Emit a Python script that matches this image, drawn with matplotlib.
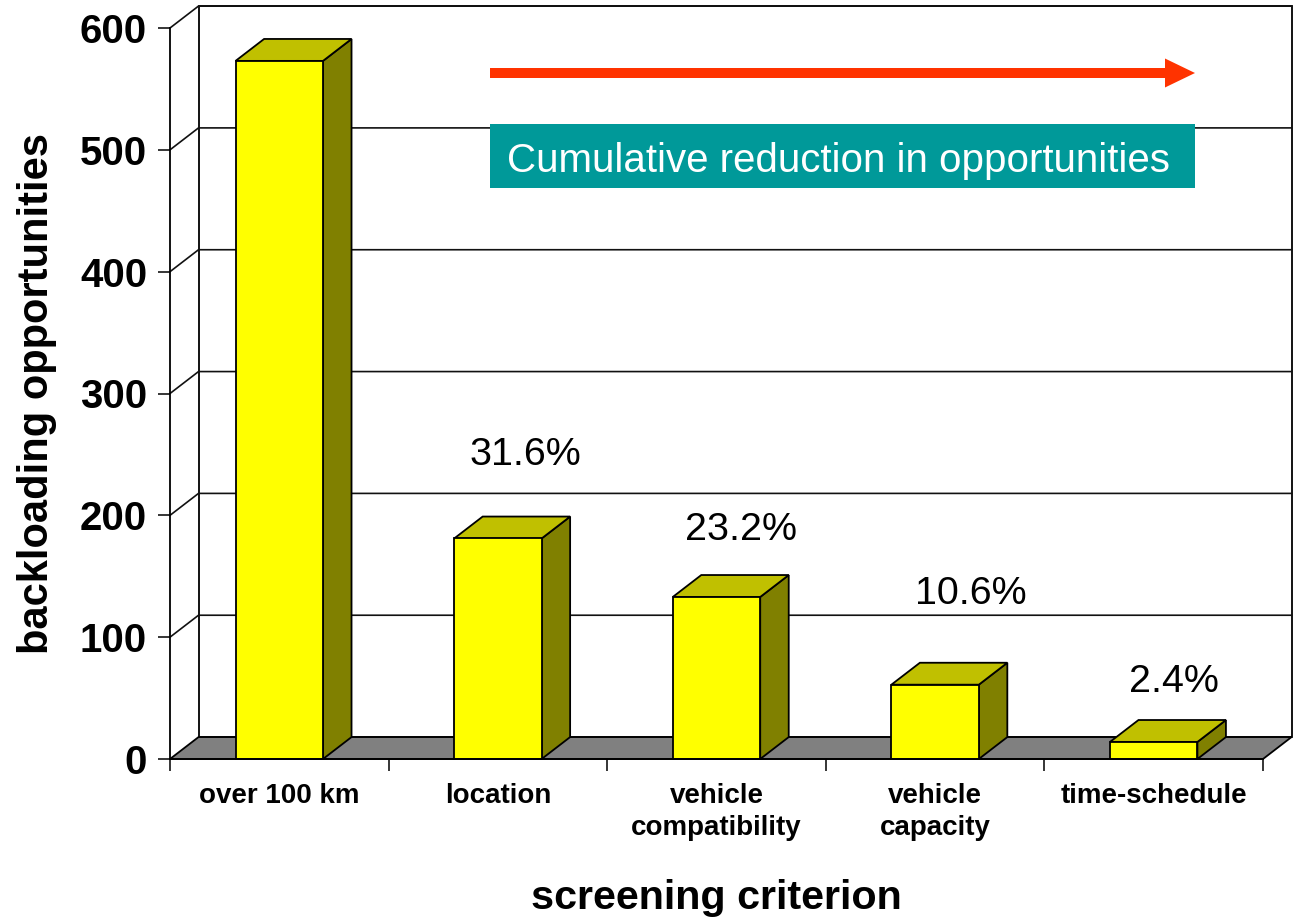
import matplotlib
matplotlib.use("Agg")
import matplotlib.pyplot as plt
from matplotlib.patches import Rectangle, Polygon, FancyArrow

# ---- data -------------------------------------------------------------
categories = ["over 100 km", "location", "vehicle\ncompatibility",
              "vehicle\ncapacity", "time-schedule"]
opportunities = [573, 181, 133, 61, 14]
y_ticks = [0, 100, 200, 300, 400, 500, 600]

# placement of the share labels (x offset from bar centre, baseline value)
share_label_pos = [None, (0.126, 241), (0.114, 180), (0.162, 127), (0.093, 55)]

# ---- style ------------------------------------------------------------
FRONT = "#FFFF00"
TOP = "#C0C000"
SIDE = "#808000"
FLOOR = "#808080"
EDGE_LW = 1.3
BAR_W = 0.40
DX, DY = 0.1304, 18.0          # depth of the pseudo-3D box (data units)
BOLD = dict(family="Liberation Sans", fontweight="bold")
PLAIN = dict(family="Liberation Sans")

fig = plt.figure(figsize=(12.97, 9.19), dpi=100)
fig.patch.set_facecolor("white")
ax = fig.add_axes([170 / 1297, 160 / 919, 1093 / 1297, 731 / 919])
ax.set_xlim(-0.5, len(categories) - 0.5)
ax.set_ylim(y_ticks[0], y_ticks[-1])
ax.patch.set_visible(False)

x_lo, x_hi = -0.5, len(categories) - 0.5
y_top = y_ticks[-1]

# back wall
ax.add_patch(Rectangle((x_lo + DX, DY), x_hi - x_lo, y_top, facecolor="white",
                       edgecolor="black", lw=EDGE_LW, zorder=0.5, clip_on=False))
# left side wall fill
ax.add_patch(Polygon([(x_lo, 0), (x_lo + DX, DY), (x_lo + DX, y_top + DY), (x_lo, y_top)],
                     closed=True, facecolor="white", edgecolor="none", zorder=0.4,
                     clip_on=False))
# gridlines on side wall and back wall
for v in y_ticks[1:]:
    ax.plot([x_lo, x_lo + DX, x_hi + DX], [v, v + DY, v + DY], color="#111111",
            lw=1.2, zorder=0.6, clip_on=False, solid_joinstyle="miter")
# floor
ax.add_patch(Polygon([(x_lo, 0), (x_hi, 0), (x_hi + DX, DY), (x_lo + DX, DY)],
                     closed=True, facecolor=FLOOR, edgecolor="black", lw=EDGE_LW,
                     zorder=0.7, clip_on=False))

# bars
for i, v in enumerate(opportunities):
    x0, x1 = i - BAR_W / 2, i + BAR_W / 2
    ax.add_patch(Polygon([(x1, 0), (x1 + DX, DY), (x1 + DX, v + DY), (x1, v)],
                         closed=True, facecolor=SIDE, edgecolor="black", lw=EDGE_LW,
                         zorder=3, clip_on=False, joinstyle="miter"))
    ax.add_patch(Polygon([(x0, v), (x1, v), (x1 + DX, v + DY), (x0 + DX, v + DY)],
                         closed=True, facecolor=TOP, edgecolor="black", lw=EDGE_LW,
                         zorder=3, clip_on=False, joinstyle="miter"))
    ax.add_patch(Rectangle((x0, 0), BAR_W, v, facecolor=FRONT, edgecolor="black",
                           lw=EDGE_LW, zorder=3.1, clip_on=False, joinstyle="miter"))

# share of the first screening stage
for i, v in enumerate(opportunities):
    pos = share_label_pos[i]
    if pos is None:
        continue
    ax.text(i + pos[0], pos[1], f"{v / opportunities[0] * 100:.1f}%",
            ha="center", va="baseline", fontsize=28.4, color="black", zorder=5, **PLAIN)

# axes lines and ticks
for s in ("top", "right"):
    ax.spines[s].set_visible(False)
ax.spines["left"].set_linewidth(EDGE_LW)
ax.spines["bottom"].set_linewidth(EDGE_LW)
ax.spines["left"].set_zorder(4)
ax.spines["bottom"].set_zorder(4)

ax.set_yticks(y_ticks)
ax.set_yticklabels([str(t) for t in y_ticks])
ax.tick_params(axis="y", direction="out", length=8.6, width=1.1, pad=7.9,
               labelsize=29)
for lab in ax.get_yticklabels():
    lab.set_fontfamily("Liberation Sans")
    lab.set_fontweight("bold")

ax.set_xticks([k - 0.5 for k in range(len(categories) + 1)])
ax.set_xticklabels([])
ax.set_xticks(range(len(categories)), minor=True)
ax.set_xticklabels(categories, minor=True)
ax.tick_params(axis="x", which="major", direction="out", length=8.6, width=1.1)
ax.tick_params(axis="x", which="minor", length=0, pad=17, labelsize=20)
for lab in ax.get_xticklabels(minor=True):
    lab.set_fontfamily("Liberation Sans")
    lab.set_fontweight("bold")
    lab.set_multialignment("center")
    lab.set_linespacing(1.32)

# axis titles
ax.text(-133 / 1093, 0.5, "backloading opportunities", transform=ax.transAxes,
        rotation=90, ha="center", va="center", fontsize=30, **BOLD)
fig.text(716.5 / 1297, 10 / 919, "screening criterion", ha="center",
         va="baseline", fontsize=29.7, **BOLD)

# annotation: arrow and caption box (figure inches)
inch = fig.dpi_scale_trans
fig.add_artist(FancyArrow(4.90, 8.46, 7.05, 0, width=0.10, head_width=0.29,
                          head_length=0.30, length_includes_head=True,
                          transform=inch, facecolor="#FF3300", edgecolor="none"))
fig.add_artist(Rectangle((4.90, 7.31), 7.05, 0.64, transform=inch,
                         facecolor="#009999", edgecolor="none", zorder=6))
fig.text(8.38, 7.47, "Cumulative reduction in opportunities", transform=inch,
         ha="center", va="baseline", fontsize=29, color="white", zorder=7, **PLAIN)

fig.savefig("out.png", dpi=100, facecolor="white")
